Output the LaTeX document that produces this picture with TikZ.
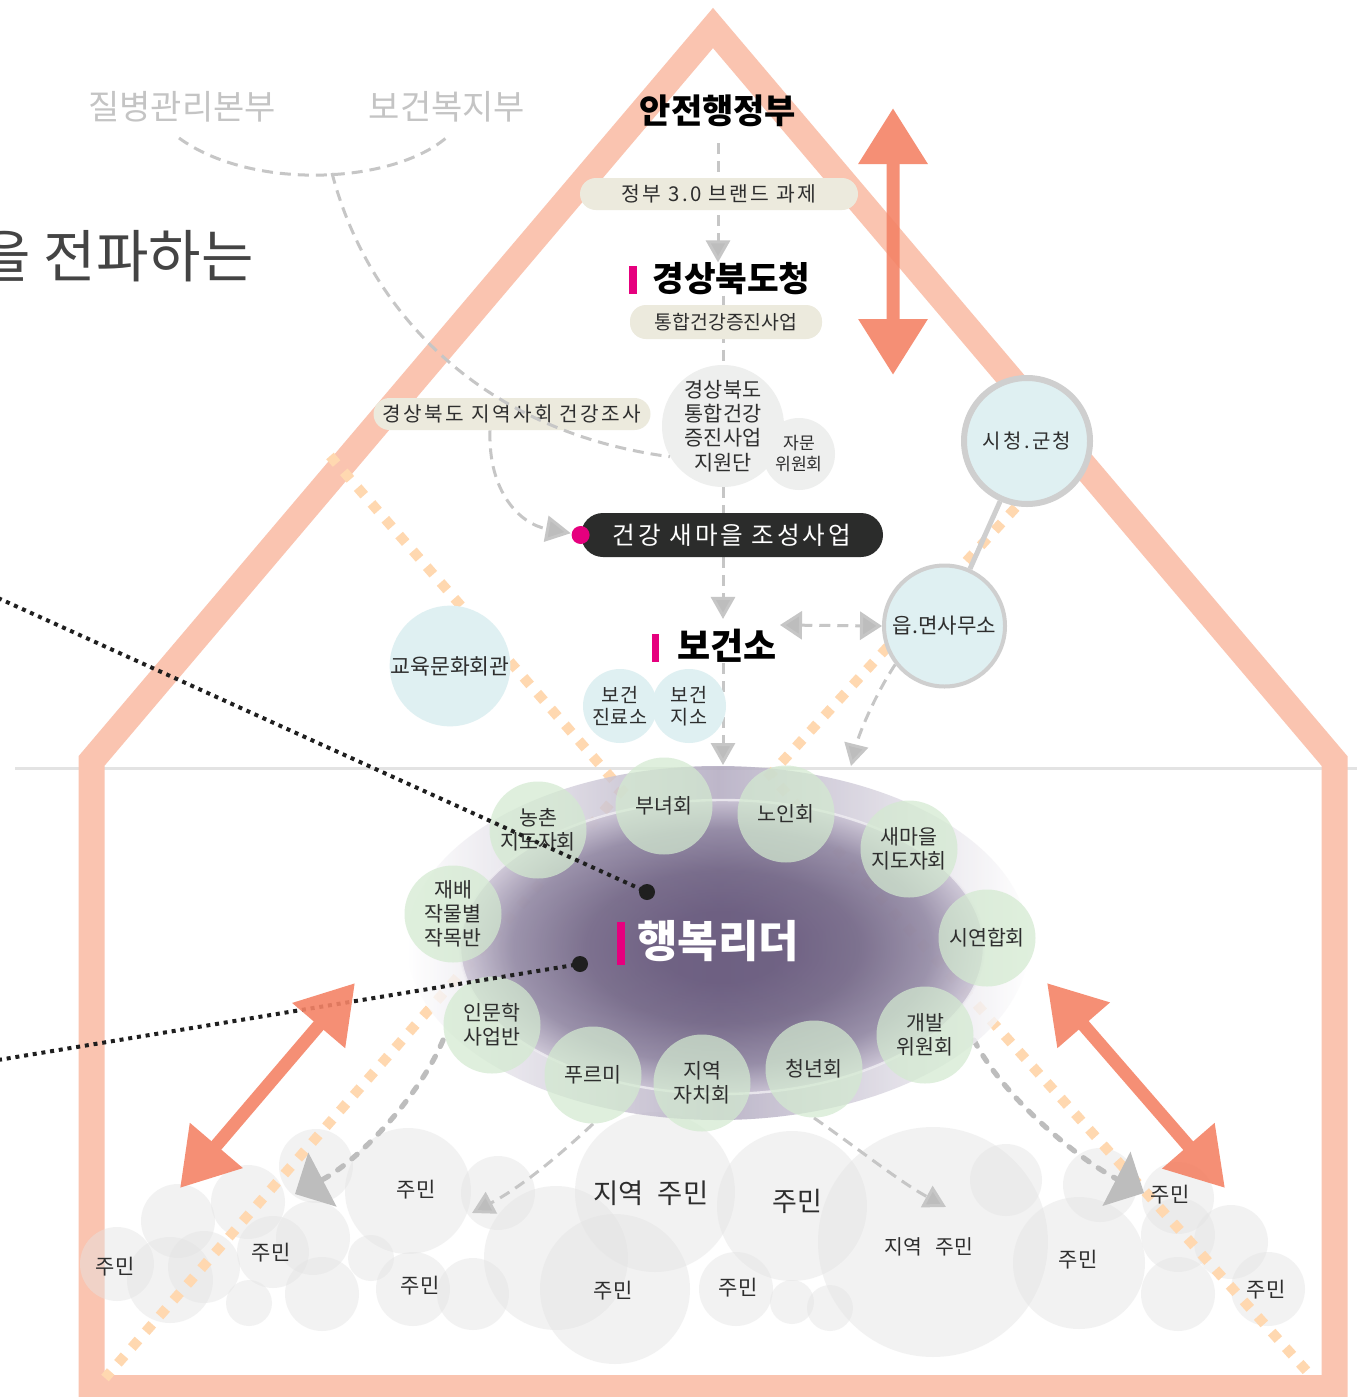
\documentclass[tikz,border=0pt]{standalone}
\usepackage{fontspec}
\setmainfont{Noto Sans CJK KR}
\newfontfamily\krsp[LetterSpace=12]{Noto Sans CJK KR}
\usetikzlibrary{arrows.meta,shapes.geometric,calc}
\definecolor{band}{HTML}{FAC4B0}
\definecolor{salmon}{HTML}{F48366}
\definecolor{hotpink}{HTML}{E6007E}
\definecolor{beige}{HTML}{ECEADD}
\definecolor{lgray}{HTML}{C6C6C6}
\definecolor{mgray}{HTML}{BDBDBD}
\definecolor{cyanf}{HTML}{DFF0F2}
\definecolor{greenf}{HTML}{D3EAD0}
\definecolor{peach}{HTML}{FFD8B0}
\definecolor{txt}{HTML}{2E2E2E}
\definecolor{fade}{HTML}{C4C4C4}
\definecolor{slog}{HTML}{444444}
\definecolor{darkpill}{HTML}{2B2C2B}
\definecolor{supf}{HTML}{EEEFEE}
\definecolor{resf}{HTML}{E4E4E4}
\definecolor{ringc}{HTML}{AFA7BE}
\definecolor{lc1}{HTML}{5F5075}
\definecolor{lc1b}{HTML}{6C5F80}
\definecolor{lc2}{HTML}{8E84A0}
\definecolor{lc3}{HTML}{CAC3D4}
\definecolor{cborder}{HTML}{CFCFCF}
\definecolor{hline}{HTML}{E3E3E3}
\pgfdeclareradialshading{leadsh}{\pgfpoint{0bp}{0bp}}{color(0bp)=(lc1); color(6bp)=(lc1); color(13bp)=(lc1b); color(20bp)=(lc2); color(25bp)=(lc3); color(50bp)=(lc3)}
\newcommand\fz[2]{\fontsize{#1pt}{#2pt}\selectfont}
\pgfdeclarelayer{lzero}
\pgfdeclarelayer{lone}
\pgfsetlayers{lzero,lone,main}
\begin{document}
\begin{tikzpicture}[x=0.5pt,y=-0.5pt,
  lbl/.style={inner sep=0pt, text=txt, align=center, font=\fz{10.5}{12.5}},
  gline/.style={draw=lgray, line width=1.5pt, dash pattern=on 5.5pt off 3.5pt},
  gtip/.style={-{Triangle[length=11pt,width=12pt,fill=mgray]}},
  tline/.style={draw=mgray, line width=2.6pt, line cap=round, dash pattern=on 3.5pt off 5.5pt},
  pill/.style={fill=beige, rounded corners=8pt, inner sep=0pt, text=txt},
  cyanc/.style={circle, fill=cyanf, inner sep=0pt, text=txt, align=center},
  grc/.style={circle, fill=greenf, fill opacity=0.72, text opacity=1, minimum size=48.5pt, inner sep=0pt, text=txt, align=center, font=\fz{10.3}{11.9}},
  peachd/.style={draw=peach, line width=5pt, dash pattern=on 5pt off 5.5pt},
  bigarrow/.style={draw=salmon, line width=6.5pt, {Triangle[length=28pt,width=33pt]}-{Triangle[length=28pt,width=33pt]}},
  dotline/.style={draw=black!88, line width=2pt, dash pattern=on 2pt off 2.4pt},
  blackdot/.style={circle, fill=black!88, minimum size=8pt, inner sep=0pt}
]
\useasboundingbox (0,0) rectangle (1357,1397);

% ---------- bottom layer: background, house, residents, diamonds
\begin{pgfonlayer}{lzero}
\fill[white] (0,0) rectangle (1357,1397);
\node[anchor=east, inner sep=0pt, text=slog, font=\fz{28.5}{32}] (slogan) at (254,256) {을 전파하는};
\draw[hline, line width=1.5pt] (15,768) -- (1357,768);
\draw[band, line width=13pt, line join=miter] (91.5,1388) -- (91.5,761) -- (713,28) -- (1334.5,761) -- (1334.5,1388) -- cycle;
\foreach \cx/\cy/\r in {117/1264/37, 178/1221/37, 170/1280/43, 204/1267/36, 248/1202/37, 273/1252/36, 316/1166/37, 313/1238/37, 249/1303/23, 322/1294/37, 408/1191/63, 371/1258/23, 413/1289/37, 473/1294/36, 498/1193/37, 556/1258/72, 615/1289/75, 655/1192/80, 792/1206/75, 736/1289/37, 792/1302/22, 830/1308/23, 933/1242/115, 1006/1180/36, 1079/1263/66, 1100/1185/37, 1178/1198/36, 1178/1235/37, 1231/1242/37, 1178/1294/37, 1268/1289/37}
  \fill[resf, fill opacity=0.45] (\cx,\cy) circle (\r);
\draw[peachd] (330,456) -- (622,790) -- (105,1378);
\draw[peachd] (1030,492) -- (770,775) -- (1313,1378);
\end{pgfonlayer}

% ---------- resident labels
\node[lbl] (r1) at (115,1267) {주민};
\node[lbl] (r2) at (271,1253) {주민};
\node[lbl] (r3) at (416,1190) {주민};
\node[lbl] (r4) at (420,1286) {주민};
\node[lbl] (r5) at (613,1291) {주민};
\node[lbl, font=\fz{13.7}{16}] (r6) at (651,1193) {지역\hspace{0.5em}주민};
\node[lbl, font=\fz{13.5}{16}] (r7) at (797,1201) {주민};
\node[lbl] (r8) at (738,1288) {주민};
\node[lbl, font=\fz{10.2}{12}] (r9) at (929,1247) {지역\hspace{0.65em}주민};
\node[lbl] (r10) at (1078,1260) {주민};
\node[lbl] (r11) at (1170,1195) {주민};
\node[lbl] (r12) at (1266,1290) {주민};

% ---------- top nodes
\node[inner sep=0pt, text=fade, font=\fz{17}{20}] (kdca) at (182,107) {질병관리본부};
\node[inner sep=0pt, text=fade, font=\fz{17}{20}] (mohw) at (447,107) {보건복지부};
\coordinate (arcL) at (179,138);
\coordinate (arcR) at (446,138);
\coordinate (jn) at (332,173);

\node[inner sep=0pt, text=black, font=\bfseries\fz{17}{20}] (mois) at (718,111) {안전행정부};
\node[pill, minimum width=139pt, minimum height=16pt, font=\krsp\fz{10.2}{12}] (gov) at (719,194) {정부 3.0 브랜드 과제};
\node[inner sep=0pt, text=black, font=\bfseries\fz{17.2}{20}] (gb) at (731.5,279) {경상북도청};
\fill[hotpink] (629,266) rectangle (637,294);
\node[pill, minimum width=96pt, minimum height=17pt, font=\fz{9.7}{11}] (p2) at (726,322) {통합건강증진사업};

\node[circle, fill=supf, minimum size=61pt, inner sep=0pt, text=txt, align=center, font=\fz{10.4}{12.2}] (sup) at (723,426) {경상북도\\통합건강\\증진사업\\지원단};
\node[circle, fill=supf, minimum size=36pt, inner sep=0pt, text=txt, align=center, font=\fz{8.6}{10.5}] (adv) at (799,454) {자문\\위원회};
\node[pill, minimum width=138.5pt, minimum height=16pt, font=\krsp\fz{10.1}{12}] (survey) at (512,414) {경상북도 지역사회 건강조사};

\node[fill=darkpill, rounded corners=11pt, minimum width=151pt, minimum height=22pt, inner sep=0pt, text=white, font=\krsp\fz{12.3}{14}] (sm) at (732,535) {건강 새마을 조성사업};
\fill[hotpink] (sm.west) circle (9);

\node[inner sep=0pt, text=black, font=\bfseries\fz{18}{20}] (bgs) at (727,646) {보건소};
\fill[hotpink] (652,634) rectangle (659,662);

\node[cyanc, minimum size=60pt, font=\fz{10.8}{12}] (edu) at (450,666) {교육문화회관};
\node[cyanc, minimum size=37pt, font=\fz{9.8}{11}] (clinic) at (620,706) {보건\\진료소};
\node[cyanc, minimum size=37pt, font=\fz{9.8}{11}] (branch) at (689,706) {보건\\지소};
\node[cyanc, draw=cborder, line width=2pt, minimum size=60.5pt, font=\fz{10.6}{12}] (emd) at (944.5,626) {읍.면사무소};
\node[cyanc, draw=cborder, line width=3pt, minimum size=63pt, font=\krsp\fz{10}{12}] (city) at (1027,441) {시청.군청};

% connectors under nodes
\begin{pgfonlayer}{lone}
\draw[gline] (arcL) .. controls (250,190) and (390,185) .. (arcR);
\draw[gline, gtip, shorten <=8pt] (mois.south) -- (mois.south |- gb.north);
\draw[gline] (gb.south -| sup.north) -- (sup.north);
\draw[gline] (sup.south) -- (sup.south |- sm.north);
\draw[gline, gtip, shorten >=5pt] (sm.south -| sup) -- (bgs.north -| sup);
\coordinate (dnTip) at (723,765);
\draw[gline, gtip] (bgs.south -| sup) -- (dnTip);
\draw[gline, -{Triangle[length=12.5pt,width=13pt,fill=mgray]}, shorten >=5pt] ($(survey.south)+(-22,0)$) .. controls (488,492) and (520,524) .. (sm.west);
\coordinate (dblL) at (780,625);
\draw[gline, {Triangle[length=11pt,width=14pt,fill=mgray]}-{Triangle[length=11pt,width=14pt,fill=mgray]}] (dblL) -- (emd.west);
\draw[cborder, line width=2.5pt] (city) -- (emd);
\coordinate (emdTip) at (851,766);
\draw[gline, gtip] (emd.218) .. controls (878,690) and (860,730) .. (emdTip);
\end{pgfonlayer}
\draw[gline] (jn) .. controls (365,300) and (470,430) .. (sup.210);

% ---------- leader ellipse
\shade[left color=white, right color=white, middle color=ringc, opacity=0.82] (718,943) ellipse [x radius=311, y radius=177];
\shadedraw[shading=leadsh, draw=white!80!ringc, line width=1.2pt, opacity=0.84] (722,947) ellipse [x radius=262, y radius=147];

\node[grc] (nongchon) at (538,830) {농촌\\지도자회};
\node[grc] (bunyeo) at (664,806) {부녀회};
\node[grc] (noin) at (786,814) {노인회};
\node[grc] (saemaul) at (909,849) {새마을\\지도자회};
\node[grc] (jaebae) at (453,914) {재배\\작물별\\작목반};
\node[grc] (siyeon) at (987,938) {시연합회};
\node[grc] (inmun) at (492,1025) {인문학\\사업반};
\node[grc] (purumi) at (593,1075) {푸르미};
\node[grc] (jachi) at (702,1083) {지역\\자치회};
\node[grc] (cheong) at (814,1069) {청년회};
\node[grc] (gaebal) at (925,1035) {개발\\위원회};

\node[inner sep=0pt, text=white, font=\bfseries\fz{22}{24}] (leader) at (718,941) {행복리더};
\fill[hotpink] (617,922) rectangle (625,965);

% connectors from leaders to residents
\begin{pgfonlayer}{lone}
\coordinate (tipL) at (295,1194);
\coordinate (tipR) at (1144,1193);
\draw[tline, -{Triangle[length=15.5pt,width=30pt,fill=mgray]}] (inmun.west |- 440,1040) .. controls (420,1095) and (360,1160) .. (tipL);
\draw[tline, -{Triangle[length=15.5pt,width=30pt,fill=mgray]}] (gaebal.east |- 990,1040) .. controls (1005,1100) and (1080,1160) .. (tipR);
\coordinate (tipL2) at (472,1213);
\coordinate (tipR2) at (946,1207);
\draw[gline, -{Triangle[length=11pt,width=12pt,fill=mgray]}] (purumi.south) .. controls (565,1150) and (525,1185) .. (tipL2);
\draw[gline, -{Triangle[length=11pt,width=12pt,fill=mgray]}] (cheong.south) .. controls (860,1150) and (900,1182) .. (tipR2);
\end{pgfonlayer}

% ---------- black dotted pointers
\node[blackdot] (d1) at (647,892) {};
\node[blackdot] (d2) at (580,964) {};
\coordinate (p1) at (-2,598);
\coordinate (p2s) at (-2,1060);
\draw[dotline] (p1) -- (d1.center);
\draw[dotline] (p2s) -- (d2.center);

% ---------- salmon double arrows
\coordinate (aTop) at (893,108);
\coordinate (aBot) at (893,375);
\coordinate (lA) at (180,1188);
\coordinate (lB) at (355,983);
\coordinate (rA) at (1047,983);
\coordinate (rB) at (1225,1188);
\begin{scope}[transparency group, opacity=0.9]
\draw[bigarrow] (aTop) -- (aBot);
\end{scope}
\begin{scope}[transparency group, opacity=0.9]
\draw[bigarrow] (lA) -- (lB);
\end{scope}
\begin{scope}[transparency group, opacity=0.9]
\draw[bigarrow] (rA) -- (rB);
\end{scope}
\end{tikzpicture}
\end{document}
